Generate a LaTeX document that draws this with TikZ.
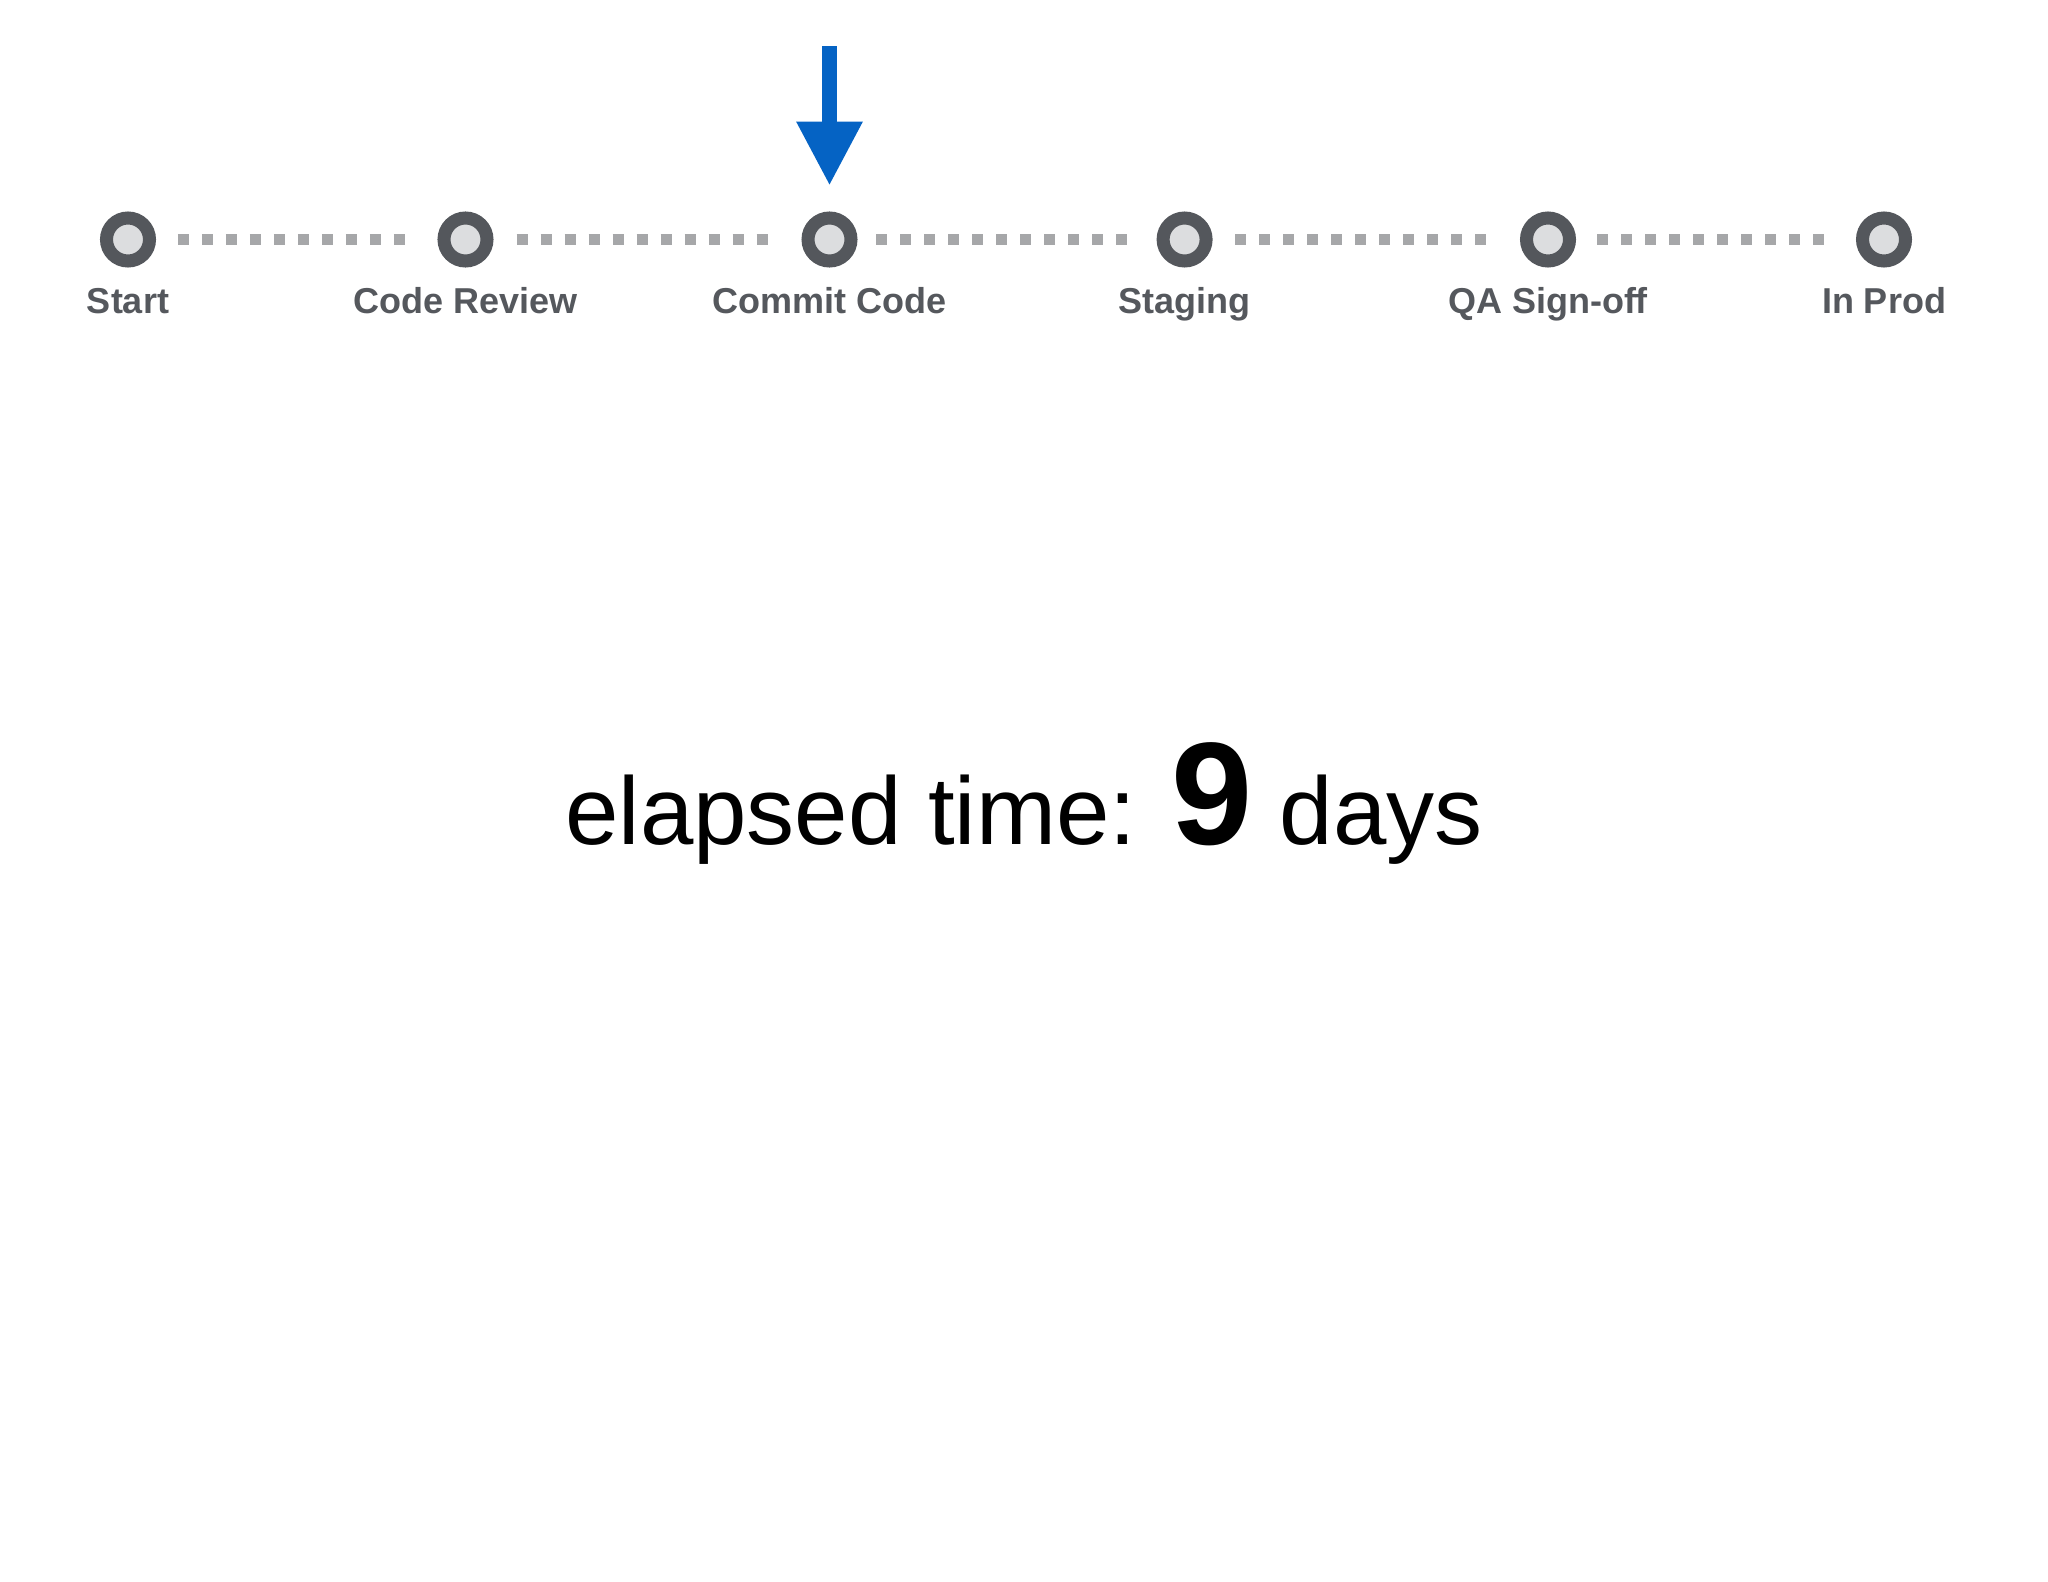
\documentclass[tikz,border=0pt]{standalone}
\usepackage{fontspec}
\setmainfont{Liberation Sans}
\usetikzlibrary{arrows.meta}
\definecolor{ringdark}{HTML}{54575C}
\definecolor{ringfill}{HTML}{DCDDDF}
\definecolor{dotgray}{HTML}{A6A7A9}
\definecolor{labelgray}{HTML}{55585D}
\definecolor{pointerblue}{HTML}{0563C4}
\tikzset{
  stage/.style={circle, draw=ringdark, fill=ringfill, line width=13pt, minimum size=43pt, inner sep=0pt},
  stagelabel/.style={anchor=base, text=labelgray, font=\fontsize{36}{40}\selectfont\bfseries, inner sep=0pt},
  dotline/.style 2 args={draw=dotgray, line width=11pt, dash pattern=on 11pt off 13pt, shorten <=#1, shorten >=#2},
}
\begin{document}
\begin{tikzpicture}[x=1pt,y=-1pt]
\fill[white] (0,0) rectangle (2048,1582);
\useasboundingbox (0,0) rectangle (2048,1582);
% stages
\node[stage] (s1) at (128,239.5) {};
\node[stage] (s2) at (465.5,239.5) {};
\node[stage] (s3) at (829.5,239.5) {};
\node[stage] (s4) at (1184.6,239.5) {};
\node[stage] (s5) at (1548,239.5) {};
\node[stage] (s6) at (1884,239.5) {};
% labels
\node[stagelabel] (l1) at (128,313) {Start};
\node[stagelabel] (l2) at (465.5,313) {Code Review};
\node[stagelabel] (l3) at (829.5,313) {Commit Code};
\node[stagelabel] (l4) at (1184.6,313) {Staging};
\node[stagelabel] (l5) at (1548,313) {QA Sign-off};
\node[stagelabel] (l6) at (1884,313) {In Prod};
% dotted connectors
\draw[dotline={21.75pt}{21pt}] (s1.east) -- (s2.west);
\draw[dotline={23pt}{22.5pt}] (s2.east) -- (s3.west);
\draw[dotline={18.55pt}{18pt}] (s3.east) -- (s4.west);
\draw[dotline={22.7pt}{22pt}] (s4.east) -- (s5.west);
\draw[dotline={21pt}{20.5pt}] (s5.east) -- (s6.west);
% pointer arrow
\coordinate (ptop) at (829.5,46);
\draw[draw=pointerblue, line width=15pt, -{Triangle[width=62pt,length=64pt]}, shorten >=25.8pt] (ptop) -- (s3.north);
% elapsed time
\node[anchor=base, inner sep=0pt, font=\fontsize{96}{110}\selectfont] (elapsed) at (1024,844) {elapsed time: {\fontsize{146}{150}\selectfont\bfseries 9} days};
\end{tikzpicture}
\end{document}
